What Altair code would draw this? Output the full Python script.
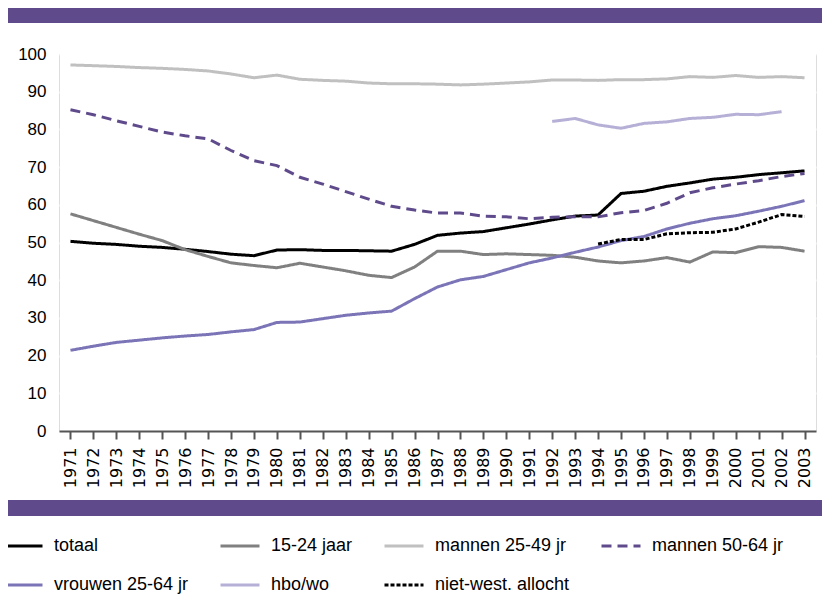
import altair as alt
import pandas as pd

years = list(range(1971, 2004))

totaal = [50.3, 49.8, 49.5, 49.0, 48.7, 48.2, 47.6, 46.9, 46.5, 48.0,
          48.1, 47.9, 47.9, 47.8, 47.7, 49.5, 51.9, 52.5, 52.9, 53.9,
          54.9, 56.0, 57.0, 57.3, 63.0, 63.6, 64.9, 65.8, 66.8, 67.3,
          68.0, 68.5, 69.0]
jaar_15_24 = [57.6, 55.8, 54.0, 52.2, 50.5, 48.1, 46.3, 44.6, 43.9, 43.3,
              44.5, 43.5, 42.5, 41.3, 40.7, 43.5, 47.7, 47.7, 46.8, 47.0,
              46.8, 46.6, 46.1, 45.1, 44.6, 45.1, 46.0, 44.8, 47.5, 47.3,
              48.9, 48.7, 47.7]
mannen_25_49 = [97.1, 96.9, 96.7, 96.4, 96.2, 95.9, 95.5, 94.7, 93.7, 94.4,
                93.3, 93.0, 92.8, 92.3, 92.1, 92.1, 92.0, 91.8, 92.0, 92.3,
                92.6, 93.1, 93.1, 93.0, 93.2, 93.2, 93.4, 94.0, 93.8, 94.3,
                93.8, 94.0, 93.7]
mannen_50_64 = [85.2, 83.9, 82.3, 80.8, 79.3, 78.3, 77.5, 74.4, 71.7, 70.4,
                67.3, 65.5, 63.5, 61.5, 59.6, 58.6, 57.8, 57.8, 57.0, 56.8,
                56.3, 56.7, 56.8, 56.8, 57.9, 58.5, 60.4, 63.2, 64.5, 65.5,
                66.4, 67.5, 68.3]
vrouwen_25_64 = [21.4, 22.5, 23.5, 24.1, 24.7, 25.2, 25.6, 26.3, 26.9, 28.8,
                 28.9, 29.8, 30.7, 31.3, 31.8, 35.1, 38.2, 40.1, 41.0, 42.8,
                 44.6, 45.9, 47.4, 48.8, 50.5, 51.6, 53.6, 55.1, 56.3, 57.1,
                 58.3, 59.6, 61.1]
hbo_years = list(range(1992, 2003))
hbo_wo = [82.1, 82.9, 81.2, 80.3, 81.6, 82.0, 82.9, 83.2, 84.0, 83.9, 84.7]
allo_years = list(range(1994, 2004))
niet_west = [49.6, 50.8, 50.8, 52.3, 52.6, 52.7, 53.6, 55.4, 57.4, 56.9]

series_names = ["totaal", "15-24 jaar", "mannen 25-49 jr", "mannen 50-64 jr",
                "vrouwen 25-64 jr", "hbo/wo", "niet-west. allocht"]
series_colors = ["#000000", "#808080", "#c0c0c0", "#5f4b8b",
                 "#7b75b7", "#b6b0d6", "#000000"]
series_dashes = [[1, 0], [1, 0], [1, 0], [10, 6], [1, 0], [1, 0], [4, 2]]
y_ticks = list(range(0, 101, 10))

band_color = "#5f4b8b"
plot_bg = "#eae8f0"

rows = []
for name, yrs, vals in [
    ("totaal", years, totaal),
    ("15-24 jaar", years, jaar_15_24),
    ("mannen 25-49 jr", years, mannen_25_49),
    ("mannen 50-64 jr", years, mannen_50_64),
    ("vrouwen 25-64 jr", years, vrouwen_25_64),
    ("hbo/wo", hbo_years, hbo_wo),
    ("niet-west. allocht", allo_years, niet_west),
]:
    for yr, v in zip(yrs, vals):
        rows.append({"jaar": yr, "waarde": v, "reeks": name})
df = pd.DataFrame(rows)

legend = alt.Legend(
    title=None, orient="none", legendX=-57, legendY=471, columns=4,
    direction="horizontal",
    columnPadding=25, rowPadding=9, symbolType="stroke", symbolSize=1521,
    symbolStrokeWidth=3, labelFontSize=18, labelFont="Liberation Sans",
    labelOffset=10, labelColor="black", padding=0, labelLimit=400,
)

lines = alt.Chart(df).mark_line(strokeWidth=3).encode(
    x=alt.X("jaar:Q",
            scale=alt.Scale(domain=[1970.5, 2003.5], nice=False, zero=False),
            axis=alt.Axis(values=years, format="d", labelAngle=270, title=None,
                          grid=False, tickSize=8, tickWidth=2, tickColor="#555555",
                          domainColor="#555555", domainWidth=2,
                          labelFont="DejaVu Sans", labelFontSize=16, labelPadding=8,
                          labelColor="black", labelOverlap=False, labelFlush=False,
                          labelBound=False, zindex=1)),
    y=alt.Y("waarde:Q",
            scale=alt.Scale(domain=[0, 100], nice=False),
            axis=alt.Axis(values=y_ticks, title=None, grid=True, gridColor="white",
                          gridWidth=2, domain=False, ticks=False, labelPadding=13,
                          labelFontSize=17, labelFont="Liberation Sans",
                          labelColor="black")),
    color=alt.Color("reeks:N", scale=alt.Scale(domain=series_names, range=series_colors),
                    legend=legend),
    strokeDash=alt.StrokeDash("reeks:N",
                              scale=alt.Scale(domain=series_names, range=series_dashes),
                              legend=legend),
    order=alt.Order("jaar:Q"),
)

one = pd.DataFrame({"k": [0]})
top_band = alt.Chart(one).mark_rect(color=band_color).encode(
    x=alt.value(-53), x2=alt.value(763), y=alt.value(-47), y2=alt.value(-31))
bottom_band = alt.Chart(one).mark_rect(color=band_color).encode(
    x=alt.value(-53), x2=alt.value(763), y=alt.value(446), y2=alt.value(462))

chart = alt.layer(top_band, bottom_band, lines).properties(
    width=757, height=377,
    autosize=alt.AutoSizeParams(type="none"),
    padding={"left": 51, "top": 46, "right": 6, "bottom": 163},
).configure_view(fill=plot_bg, stroke=None).configure(font="Liberation Sans")

chart.save("out.html", embed_options={"renderer": "svg", "actions": False})
